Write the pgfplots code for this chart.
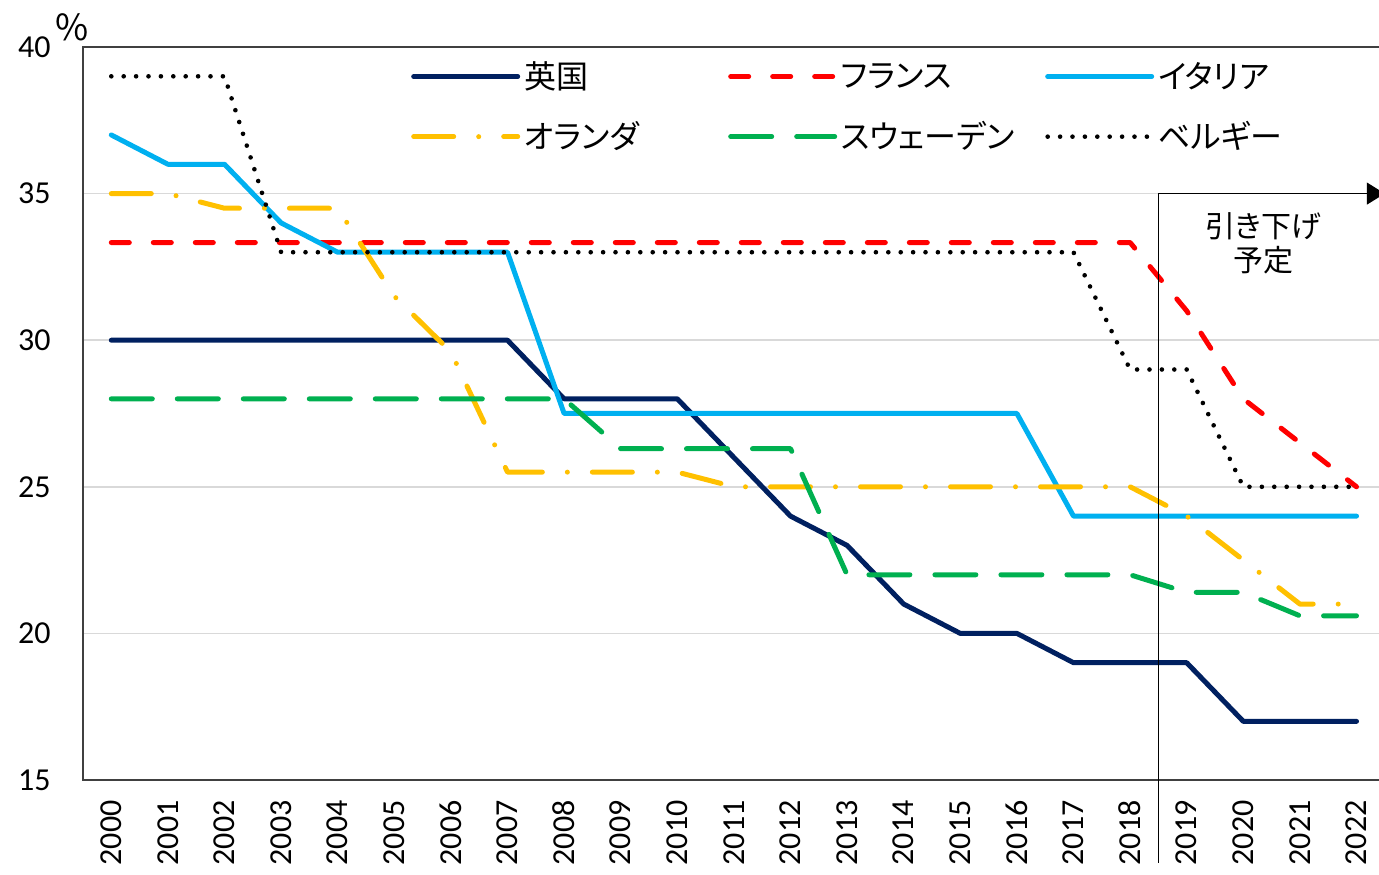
\documentclass[border=0pt]{standalone}
\usepackage{fontspec}
\setmainfont{Carlito}
\newfontfamily\cjk{Noto Sans CJK JP}[RawFeature=+palt]
\usepackage{pgfplots}
\pgfplotsset{compat=1.18}
\usepackage{pgfplotstable}
\usetikzlibrary{arrows.meta}

\definecolor{ukblue}{RGB}{0,32,96}
\definecolor{frred}{RGB}{255,0,0}
\definecolor{itblue}{RGB}{0,176,240}
\definecolor{nlyellow}{RGB}{255,192,0}
\definecolor{segreen}{RGB}{0,176,80}
\definecolor{gridgray}{RGB}{217,217,217}
\definecolor{axisgray}{RGB}{64,64,64}

% corporate tax rates, %
\pgfplotstableread{
year uk    fr    it   nl   se   be
2000 30 33.33 37   35   28   39
2001 30 33.33 36   35   28   39
2002 30 33.33 36   34.5 28   39
2003 30 33.33 34   34.5 28   33
2004 30 33.33 33   34.5 28   33
2005 30 33.33 33   31.5 28   33
2006 30 33.33 33   29.6 28   33
2007 30 33.33 33   25.5 28   33
2008 28 33.33 27.5 25.5 28   33
2009 28 33.33 27.5 25.5 26.3 33
2010 28 33.33 27.5 25.5 26.3 33
2011 26 33.33 27.5 25   26.3 33
2012 24 33.33 27.5 25   26.3 33
2013 23 33.33 27.5 25   22   33
2014 21 33.33 27.5 25   22   33
2015 20 33.33 27.5 25   22   33
2016 20 33.33 27.5 25   22   33
2017 19 33.33 24   25   22   33
2018 19 33.33 24   25   22   29
2019 19 31    24   24   21.4 29
2020 17 28    24   22.5 21.4 25
2021 17 26.5  24   21   20.6 25
2022 17 25    24   21   20.6 25
}\rates

\begin{document}
\begin{tikzpicture}
\begin{axis}[
  scale only axis,
  width=650.9pt, height=366.5pt,
  xmin=1999.5, xmax=2022.5,
  ymin=15, ymax=40,
  xtick={2000,...,2022},
  ytick={15,20,...,40},
  major tick length=0pt,
  ymajorgrids,
  grid style={draw=gridgray, line width=0.75pt},
  axis line style={draw=axisgray, line width=1pt},
  clip=false,
  /pgf/number format/assume math mode=true,
  /pgf/number format/1000 sep={},
  tick label style={font=\fontsize{16}{19}\selectfont, text=black},
  x tick label style={rotate=90, anchor=east, inner xsep=10pt},
  y tick label style={anchor=east, inner xsep=16pt},
  legend columns=3,
  legend cell align=left,
  legend style={draw=none, fill=none, at={(rel axis cs:0.2518,0.986)},
    anchor=north west, inner sep=0pt, row sep=11pt, column sep=0pt,
    nodes={inner sep=2pt, text depth=0.15em},
    font=\cjk\fontsize{16}{19}\selectfont},
  legend image code/.code={\draw[#1] (0pt,0pt) -- (52pt,0pt);},
  every axis plot/.append style={line width=2.5pt, line cap=round, line join=round},
]
\addplot[ukblue] table[x=year, y=uk] {\rates};
\addlegendentry{\makebox[100pt][l]{英国}}
\addplot[frred, dash pattern=on 9pt off 12pt] table[x=year, y=fr] {\rates};
\addlegendentry{\makebox[100pt][l]{フランス}}
\addplot[itblue] table[x=year, y=it] {\rates};
\addlegendentry{\makebox[100pt][l]{イタリア}}
\addplot[nlyellow, dash pattern=on 20pt off 12.5pt on 0pt off 12.5pt] table[x=year, y=nl] {\rates};
\addlegendentry{\makebox[100pt][l]{オランダ}}
\addplot[segreen, dash pattern=on 20.5pt off 12.5pt] table[x=year, y=se] {\rates};
\addlegendentry{\makebox[100pt][l]{スウェーデン}}
\addplot[black, line width=2.3pt, dash pattern=on 0pt off 6.2pt] table[x=year, y=be] {\rates};
\addlegendentry{\makebox[100pt][l]{ベルギー}}

% planned cuts marker
\draw[black, line width=0.6pt] (axis cs:2018.5,12.17) -- (axis cs:2018.5,35);
\draw[black, line width=0.6pt, -{Triangle[length=9pt,width=11pt]}]
  (axis cs:2018.5,35) -- (axis cs:2022.5,35);
\node[font=\cjk\fontsize{15}{17}\selectfont, align=center]
  at (axis cs:2020.35,33.31) {引き下げ\\予定};

\node[font=\cjk\fontsize{18}{20}\selectfont] at ([xshift=-5.5pt,yshift=10pt]rel axis cs:0,1) {\%};

\path (rel axis cs:0,0) ++(-41.5pt,-47.5pt) coordinate (BBsw);
\path (rel axis cs:0,1) ++(648pt,23.5pt) coordinate (BBne);
\end{axis}
\pgfresetboundingbox
\useasboundingbox (BBsw) rectangle (BBne);
\end{tikzpicture}
\end{document}
